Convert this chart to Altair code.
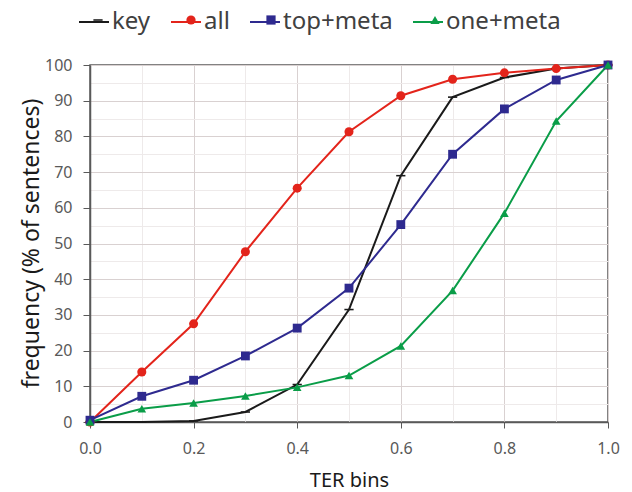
import altair as alt
import pandas as pd

x_bins = [0.0, 0.1, 0.2, 0.3, 0.4, 0.5, 0.6, 0.7, 0.8, 0.9, 1.0]
series_names = ["key", "all", "top+meta", "one+meta"]
key_vals = [0.0, 0.0, 0.3, 2.8, 10.5, 31.5, 69.0, 91.0, 96.5, 99.0, 100.0]
all_vals = [0.0, 14.0, 27.5, 47.7, 65.5, 81.3, 91.4, 96.0, 97.8, 99.0, 100.0]
top_meta_vals = [0.5, 7.2, 11.7, 18.5, 26.3, 37.5, 55.3, 75.0, 87.7, 95.8, 100.0]
one_meta_vals = [0.0, 3.7, 5.3, 7.3, 9.7, 13.0, 21.3, 36.8, 58.5, 84.3, 100.0]
y_ticks = list(range(0, 101, 5))

colors = ["#1a1a1a", "#e3241b", "#2e2a8f", "#0a9d48"]
shapes = ["M-1,-0.17H1V0.17H-1Z", "circle", "square", "triangle-up"]
sizes = [85, 75, 110, 80]

rows = []
for name, vals in zip(series_names, [key_vals, all_vals, top_meta_vals, one_meta_vals]):
    for xv, yv in zip(x_bins, vals):
        rows.append({"series": name, "bin": xv, "freq": yv, "order": series_names.index(name)})
df = pd.DataFrame(rows)

x_enc = alt.X("bin:Q", title="TER bins",
              scale=alt.Scale(domain=[0, 1], nice=False, zero=False),
              axis=alt.Axis(values=x_bins, labelOverlap=False, labelFlush=False,
                            labelExpr="round(datum.value*10) % 2 === 0 ? format(datum.value, '.1f') : ''",
                            gridColor={"condition": {"test": "round(datum.value*10) % 2 === 0", "value": "#d9d1d1"}, "value": "#eeeaea"},
                            tickOpacity={"condition": {"test": "round(datum.value*10) % 2 === 0", "value": 1}, "value": 0},
                            tickSize=6, labelPadding=12,
                            titleX=259, titleY=64, titleBaseline="alphabetic", titleAnchor="middle", titleAlign="center"))
y_enc = alt.Y("freq:Q", title="frequency (% of sentences)",
              scale=alt.Scale(domain=[0, 100], nice=False),
              axis=alt.Axis(values=y_ticks, labelOverlap=False,
                            labelExpr="datum.value % 10 === 0 ? datum.value : ''",
                            gridColor={"condition": {"test": "datum.value % 10 === 0", "value": "#d9d1d1"}, "value": "#eeeaea"},
                            tickOpacity={"condition": {"test": "datum.value % 10 === 0", "value": 1}, "value": 0},
                            tickSize=7, labelPadding=11,
                            titleX=-59, titleY=178, titleAngle=-90, titleBaseline="middle",
                            titleAnchor="middle", titleAlign="center", titleFontSize=23))

line_legend = alt.Legend(title=None, orient="none", direction="horizontal",
                         legendX=-12, legendY=-59, symbolType="stroke",
                         symbolSize=900, symbolStrokeWidth=2, labelOffset=2,
                         columnPadding=16, labelFontSize=24, labelFont="Noto Sans",
                         labelColor="#404040")
mark_legend = alt.Legend(title=None, orient="none", direction="horizontal",
                         legendX=-4, legendY=-57, symbolSize=85, symbolStrokeWidth=0,
                         labelOffset=12, columnPadding=18, labelFontSize=24,
                         labelFont="Noto Sans", labelColor="transparent")

lines = alt.Chart(df).mark_line(strokeWidth=2).encode(
    x=x_enc, y=y_enc,
    color=alt.Color("series:N", sort=alt.EncodingSortField("order", op="min"),
                    scale=alt.Scale(range=colors), legend=line_legend),
    detail="series:N",
    order="order:Q",
)
points = alt.Chart(df).mark_point(filled=True, opacity=1).encode(
    x=x_enc, y=y_enc,
    fill=alt.Fill("series:N", scale=alt.Scale(domain=series_names, range=colors), legend=mark_legend),
    shape=alt.Shape("series:N", scale=alt.Scale(domain=series_names, range=shapes), legend=mark_legend),
    size=alt.Size("order:O", scale=alt.Scale(range=sizes), legend=None),
    order="order:Q",
)

chart = alt.layer(lines, points).properties(
    width=518, height=357,
    autosize=alt.AutoSizeParams(type="none"),
    padding={"left": 82, "top": 57, "right": 16, "bottom": 70},
).configure_view(
    stroke="#595959", strokeWidth=1.5
).configure_axis(
    labelFont="Noto Sans", labelFontSize=16, labelColor="#595959",
    titleFont="Noto Sans", titleFontSize=20, titleColor="#1a1a1a", titleFontWeight="normal",
    domainColor="#595959", domainWidth=1.5, tickColor="#595959",
)

chart.save("out.html", embed_options={"renderer": "svg", "actions": False})
